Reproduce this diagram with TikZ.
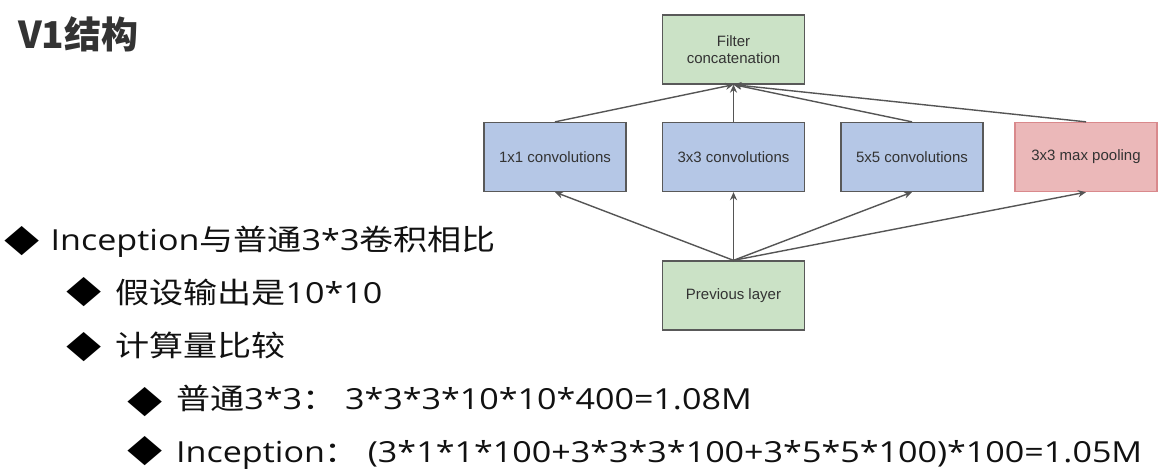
\documentclass[tikz,border=0pt]{standalone}
\usepackage{fontspec}
\setmainfont{Liberation Sans}
\newfontfamily\cjk{Noto Sans CJK SC}
\newfontfamily\cjkw[FakeStretch=1.175]{Noto Sans CJK SC}
\newfontfamily\latw[FakeStretch=1.175]{Open Sans}
\usetikzlibrary{arrows.meta}
\definecolor{boxline}{HTML}{595959}
\definecolor{txtgray}{HTML}{333333}
\definecolor{gfill}{HTML}{CBE2C6}
\definecolor{bfill}{HTML}{B5C7E6}
\definecolor{rfill}{HTML}{EBB8B9}
\definecolor{rline}{HTML}{D9898C}
\definecolor{arrowc}{HTML}{555555}
\definecolor{bodytxt}{HTML}{111111}
\begin{document}
\begin{tikzpicture}[x=1pt,y=-1pt,
  blk/.style={draw=boxline, line width=1.3pt, minimum width=142pt, minimum height=69pt,
    inner sep=0pt, font=\fontsize{15}{16.5}\selectfont, text=txtgray, align=center},
  conn/.style={draw=arrowc, line width=1.4pt, -{Stealth[length=8pt,width=7pt]}},
  bodytext/.style={anchor=base west, inner sep=0pt, text=bodytxt, font=\cjkw\fontsize{29}{31}\selectfont},
  bul/.style={anchor=center, inner sep=0pt, text=black, font=\cjkw\fontsize{30}{31}\selectfont},
  titletext/.style={anchor=base west, inner sep=0pt, text=txtgray, font=\cjk\bfseries\fontsize{37}{40}\selectfont}]
\useasboundingbox[fill=white] (0,0) rectangle (1161,472);

% title
\node[titletext] (title) at (18,48) {V1结构};

% diagram
\node[blk, fill=gfill] (filt) at (733.5,49.5) {Filter\\concatenation};
\node[blk, fill=bfill] (c1) at (555,157) {1x1 convolutions};
\node[blk, fill=bfill] (c3) at (733.5,157) {3x3 convolutions};
\node[blk, fill=bfill] (c5) at (912,157) {5x5 convolutions};
\node[blk, fill=rfill, draw=rline] (mp) at (1086,157) {3x3 max pooling};
\node[blk, fill=gfill] (prev) at (733.5,295.5) {Previous layer};

\draw[conn] (prev.north) -- (c1.south);
\draw[conn] (prev.north) -- (c3.south);
\draw[conn] (prev.north) -- (c5.south);
\draw[conn] (prev.north) -- (mp.south);
\draw[conn] (c1.north) -- (filt.south);
\draw[conn] (c3.north) -- (filt.south);
\draw[conn] (c5.north) -- (filt.south);
\draw[conn] (mp.north) -- (filt.south);

% bullets
\node[bul] (b1) at (22,241) {◆};
\node[bul] (b2) at (84,292.5) {◆};
\node[bul] (b3) at (84,347) {◆};
\node[bul] (b4) at (145.5,402) {◆};
\node[bul] (b5) at (145.5,451.5) {◆};

\node[bodytext] (l1) at (50.5,250) {{\latw Inception}与普通{\latw 3*3}卷积相比};
\node[bodytext] (l2) at (115,303) {假设输出是{\latw 10*10}};
\node[bodytext] (l3) at (115,356) {计算量比较};
\node[bodytext] (l4) at (176,409) {普通{\latw 3*3}：{\latw\ 3*3*3*10*10*400=1.08M}};
\node[bodytext] (l5) at (176,462) {{\latw Inception}：{\latw\ (3*1*1*100+3*3*3*100+3*5*5*100)*100=1.05M}};
\end{tikzpicture}
\end{document}
